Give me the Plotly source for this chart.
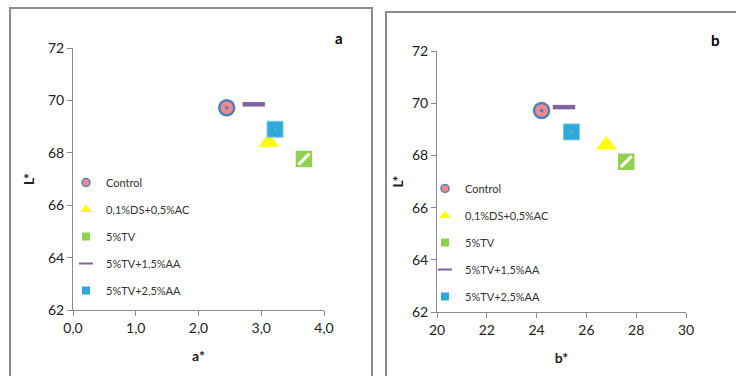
import plotly.graph_objects as go

# Colour coordinates per treatment
treatments = ["Control", "0,1%DS+0,5%AC", "5%TV", "5%TV+1,5%AA", "5%TV+2,5%AA"]
a_star = [2.45, 3.12, 3.68, 2.88, 3.22]
b_star = [24.2, 26.8, 27.6, 25.1, 25.4]
L_star = [69.72, 68.4, 67.76, 69.85, 68.9]

x_ticks_a = [0, 1, 2, 3, 4]
x_ticks_b = [20, 22, 24, 26, 28, 30]
y_ticks = [62, 64, 66, 68, 70, 72]

styles = [
    dict(symbol="circle-dot", size=15, color="#F4898C", line=dict(color="#4F81BD", width=2.5)),
    dict(symbol="triangle-up-dot", size=18, color="#FFFF00", line=dict(color="#FFFF00", width=0)),
    dict(symbol="square", size=15, color="#92D050", line=dict(color="#92D050", width=1.5)),
    dict(symbol="line-ew", size=16, color="#8064A2", line=dict(color="#8064A2", width=4.5)),
    dict(symbol="square-dot", size=16, color="#2FA8DA", line=dict(color="#7EC8E3", width=1)),
]
# smaller versions of the same symbols for the legend keys
legend_styles = [
    dict(symbol="circle", size=8, color="#F4898C", line=dict(color="#4F81BD", width=1.5)),
    dict(symbol="triangle-up", size=10, color="#FFFF00", line=dict(width=0)),
    dict(symbol="square", size=8, color="#92D050", line=dict(width=0)),
    dict(symbol="line-ew", size=10, color="#8064A2", line=dict(color="#8064A2", width=2)),
    dict(symbol="square", size=8, color="#2FA8DA", line=dict(width=0)),
]

FONT = "Lato"
fig = go.Figure()

panels = [("x", "y", a_star, "legend"), ("x2", "y2", b_star, "legend2")]
for xa, ya, xs, leg in panels:
    for i, name in enumerate(treatments):
        fig.add_trace(go.Scatter(
            x=[xs[i]], y=[L_star[i]], mode="markers", name=name,
            marker=styles[i], xaxis=xa, yaxis=ya, showlegend=False,
            cliponaxis=False,
        ))
        fig.add_trace(go.Scatter(
            x=[None], y=[None], mode="markers", name=name,
            marker=legend_styles[i], xaxis=xa, yaxis=ya, legend=leg,
            legendgroup=f"{leg}{i}",
        ))
    # white diagonal hatch on the 5%TV square
    fig.add_trace(go.Scatter(
        x=[xs[2]], y=[L_star[2]], mode="markers", showlegend=False,
        marker=dict(symbol="line-ne", size=11, line=dict(color="white", width=3)),
        xaxis=xa, yaxis=ya, hoverinfo="skip",
    ))

W, H = 736, 376

def px_x(p):
    return p / W

def px_y(p):
    return 1 - p / H

axis_common = dict(
    showgrid=False, zeroline=False, showline=True, linecolor="#8C8C8C", linewidth=1,
    ticks="outside", ticklen=5, tickcolor="#8C8C8C", automargin=False,
    tickfont=dict(family=FONT, size=14, color="#222"),
)
title_font = dict(family=FONT, size=14, color="#222")

fig.update_layout(
    width=W, height=H,
    margin=dict(l=0, r=0, t=0, b=0, autoexpand=False),
    paper_bgcolor="white", plot_bgcolor="white",
    separators=",.",
    font=dict(family=FONT, color="#222"),
    xaxis=dict(domain=[px_x(73), px_x(324)], range=[0, 4], tickvals=x_ticks_a,
               tickformat=".1f", anchor="y",
               title=dict(text="<b>a*</b>", font=title_font, standoff=16), **axis_common),
    yaxis=dict(domain=[px_y(310), px_y(48)], range=[62, 72], tickvals=y_ticks, anchor="x",
               title=dict(text="<b>L*</b>", font=title_font, standoff=10), **axis_common),
    xaxis2=dict(domain=[px_x(437), px_x(686)], range=[20, 30], tickvals=x_ticks_b, anchor="y2",
                title=dict(text="<b>b*</b>", font=title_font, standoff=16), **axis_common),
    yaxis2=dict(domain=[px_y(312), px_y(51)], range=[62, 72], tickvals=y_ticks, anchor="x2",
                title=dict(text="<b>L*</b>", font=title_font, standoff=5), **axis_common),
    legend=dict(x=px_x(66), y=px_y(168), xanchor="left", yanchor="top",
                bgcolor="rgba(0,0,0,0)", font=dict(family=FONT, size=11, color="#333"),
                tracegroupgap=8, itemwidth=30),
    legend2=dict(x=px_x(425), y=px_y(174), xanchor="left", yanchor="top",
                 bgcolor="rgba(0,0,0,0)", font=dict(family=FONT, size=11, color="#333"),
                 tracegroupgap=8, itemwidth=30),
    shapes=[
        dict(type="rect", xref="paper", yref="paper", x0=px_x(10), x1=px_x(372),
             y0=px_y(380), y1=px_y(8), line=dict(color="#8C8C8C", width=2)),
        dict(type="rect", xref="paper", yref="paper", x0=px_x(386), x1=px_x(740),
             y0=px_y(380), y1=px_y(12), line=dict(color="#8C8C8C", width=2)),
    ],
    annotations=[
        dict(text="<b>a</b>", xref="paper", yref="paper", x=px_x(339), y=px_y(38),
             xanchor="center", yanchor="middle",
             showarrow=False, font=dict(family=FONT, size=15, color="black")),
        dict(text="<b>b</b>", xref="paper", yref="paper", x=px_x(715), y=px_y(40),
             xanchor="center", yanchor="middle",
             showarrow=False, font=dict(family=FONT, size=15, color="black")),
    ],
)

fig.write_html("out.html")
